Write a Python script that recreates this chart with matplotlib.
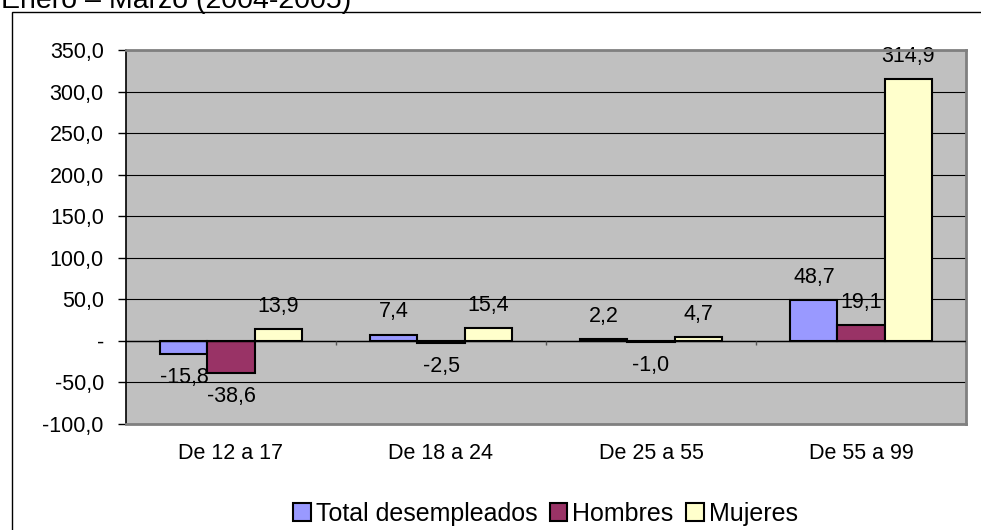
import numpy as np
from matplotlib import pyplot as plt
from matplotlib.patches import Rectangle

plt.rcParams['font.family'] = ['Liberation Sans', 'DejaVu Sans']

categorias = ['De 12 a 17', 'De 18 a 24', 'De 25 a 55', 'De 55 a 99']
series = ['Total desempleados', 'Hombres', 'Mujeres']
total = [-15.8, 7.4, 2.2, 48.7]
hombres = [-38.6, -2.5, -1.0, 19.1]
mujeres = [13.9, 15.4, 4.7, 314.9]
colores = ['#9999FF', '#993366', '#FFFFCC']
yticks = [-100, -50, 0, 50, 100, 150, 200, 250, 300, 350]

fig = plt.figure(figsize=(9.81, 5.30), dpi=100)
ax = fig.add_axes([126 / 981, 106 / 530, 840 / 981, 374 / 530])
ax.set_facecolor('#C0C0C0')

x = np.arange(len(categorias))
w = 0.224
for i, (vals, nombre, col) in enumerate(zip([total, hombres, mujeres], series, colores)):
    pos = x + (i - 1) * w
    ax.bar(pos, vals, w, color=col, edgecolor='black', linewidth=1.5, label=nombre, zorder=3)
    for p, v in zip(pos, vals):
        off = 16.5 if v >= 0 else -17
        ax.annotate(f'{v:.1f}'.replace('.', ','), (p, v), xytext=(0, off),
                    textcoords='offset points', ha='center', va='center',
                    fontsize=15.5, zorder=2.5)

ax.set_xlim(-0.5, 3.5)
ax.set_ylim(-100, 350)
ax.set_yticks(yticks)
ax.set_yticklabels(['-' if t == 0 else f'{t:.1f}'.replace('.', ',') for t in yticks], fontsize=15.5)
ax.yaxis.grid(True, color='black', linewidth=0.8, zorder=1)
ax.set_axisbelow(True)
ax.tick_params(axis='y', direction='out', length=6, width=1, pad=10)

ax.set_xticks(x)
ax.set_xticklabels(categorias, fontsize=15.5)
ax.tick_params(axis='x', length=0, pad=14)

# eje horizontal en cero con sus marcas
ax.axhline(0, color='black', linewidth=1, zorder=3.5)
ax.vlines(np.arange(0.5, 4, 1), -5, 0, color='#555555', linewidth=1, zorder=3.5)

for s in ['top', 'right', 'bottom']:
    ax.spines[s].set_color('#808080')
    ax.spines[s].set_linewidth(2)
ax.spines['left'].set_color('black')
ax.spines['left'].set_linewidth(1.2)

fig.text(1 / 981, 1 - 8 / 530, 'Enero – Marzo (2004-2005)', fontsize=20.5, va='baseline', ha='left')
fig.patches.append(Rectangle((12 / 981, -0.1), 1.2, 1.1 - 12 / 530, transform=fig.transFigure,
                             fill=False, edgecolor='black', linewidth=1))

fig.legend(loc='lower center', bbox_to_anchor=(0.556, -0.025), ncol=3, frameon=False,
           fontsize=18, handlelength=0.7, handleheight=0.7, handletextpad=0.2,
           columnspacing=0.5, borderpad=0.2)

fig.savefig('out.png', dpi=100)
